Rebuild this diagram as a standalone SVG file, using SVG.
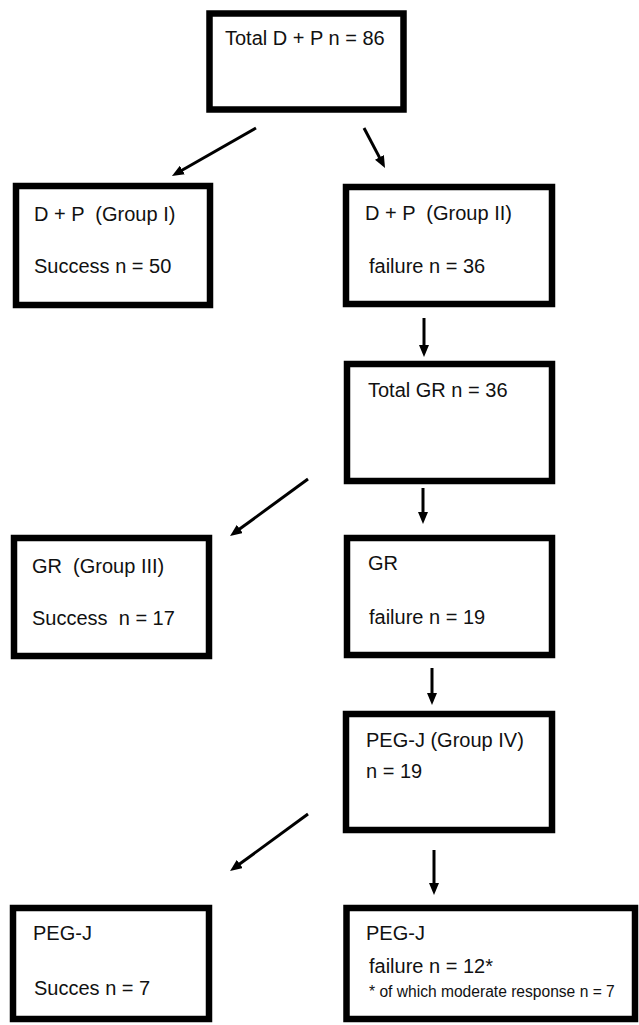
<svg xmlns="http://www.w3.org/2000/svg" width="639" height="1025" viewBox="0 0 639 1025">
<style>
.box{fill:#fff;stroke:#000;stroke-width:6.5}
.t{font-family:"Liberation Sans",Arial,sans-serif;font-size:20px;fill:#111}
.s{font-size:15.6px}
.c{stroke:#000;stroke-width:3;fill:none;marker-end:url(#ah)}
</style>
<defs>
<marker id="ah" markerUnits="userSpaceOnUse" markerWidth="12" markerHeight="10" viewBox="0 0 12 10" refX="4" refY="5" orient="auto">
<path d="M0,0 L12,5 L0,10 z" fill="#000"/>
</marker>
</defs>
<rect width="639" height="1025" fill="#fff"/>
<g id="connectors">
<line class="c" x1="256" y1="128" x2="178.9" y2="172"/>
<line class="c" x1="364" y1="128" x2="381.3" y2="160.9"/>
<line class="c" x1="424" y1="318" x2="424" y2="349"/>
<line class="c" x1="308" y1="479" x2="236.5" y2="531.3"/>
<line class="c" x1="423" y1="488" x2="423" y2="516"/>
<line class="c" x1="432" y1="668" x2="432" y2="697"/>
<line class="c" x1="308" y1="814" x2="236.5" y2="866.3"/>
<line class="c" x1="434" y1="850" x2="434" y2="887"/>
</g>
<g id="total">
<rect class="box" x="209.5" y="13.5" width="194" height="96"/>
<text class="t" x="225" y="45">Total D + P n = 86</text>
</g>
<g id="group1">
<rect class="box" x="16" y="186" width="194" height="119"/>
<text class="t" x="34" y="221" xml:space="preserve">D + P  (Group I)</text>
<text class="t" x="34" y="273">Success n = 50</text>
</g>
<g id="group2">
<rect class="box" x="346" y="187" width="206" height="117"/>
<text class="t" x="365" y="220" xml:space="preserve">D + P  (Group II)</text>
<text class="t" x="369" y="273">failure n = 36</text>
</g>
<g id="totalgr">
<rect class="box" x="347" y="364" width="205" height="117"/>
<text class="t" x="368" y="397">Total GR n = 36</text>
</g>
<g id="group3">
<rect class="box" x="14" y="538" width="195" height="118"/>
<text class="t" x="32" y="573" xml:space="preserve">GR  (Group III)</text>
<text class="t" x="32" y="625" xml:space="preserve">Success  n = 17</text>
</g>
<g id="grfail">
<rect class="box" x="347" y="538" width="205" height="117"/>
<text class="t" x="368" y="570">GR</text>
<text class="t" x="369" y="624">failure n = 19</text>
</g>
<g id="group4">
<rect class="box" x="346" y="714" width="206" height="116"/>
<text class="t" x="366" y="747">PEG-J (Group IV)</text>
<text class="t" x="366" y="778">n = 19</text>
</g>
<g id="pegsuccess">
<rect class="box" x="13" y="908" width="196" height="111"/>
<text class="t" x="33" y="940">PEG-J</text>
<text class="t" x="34" y="995">Succes n = 7</text>
</g>
<g id="pegfail">
<rect class="box" x="346.5" y="908" width="288.5" height="111"/>
<text class="t" x="366" y="940">PEG-J</text>
<text class="t" x="369" y="973">failure n = 12*</text>
<text class="t s" x="369" y="997">* of which moderate response n = 7</text>
</g>
</svg>
